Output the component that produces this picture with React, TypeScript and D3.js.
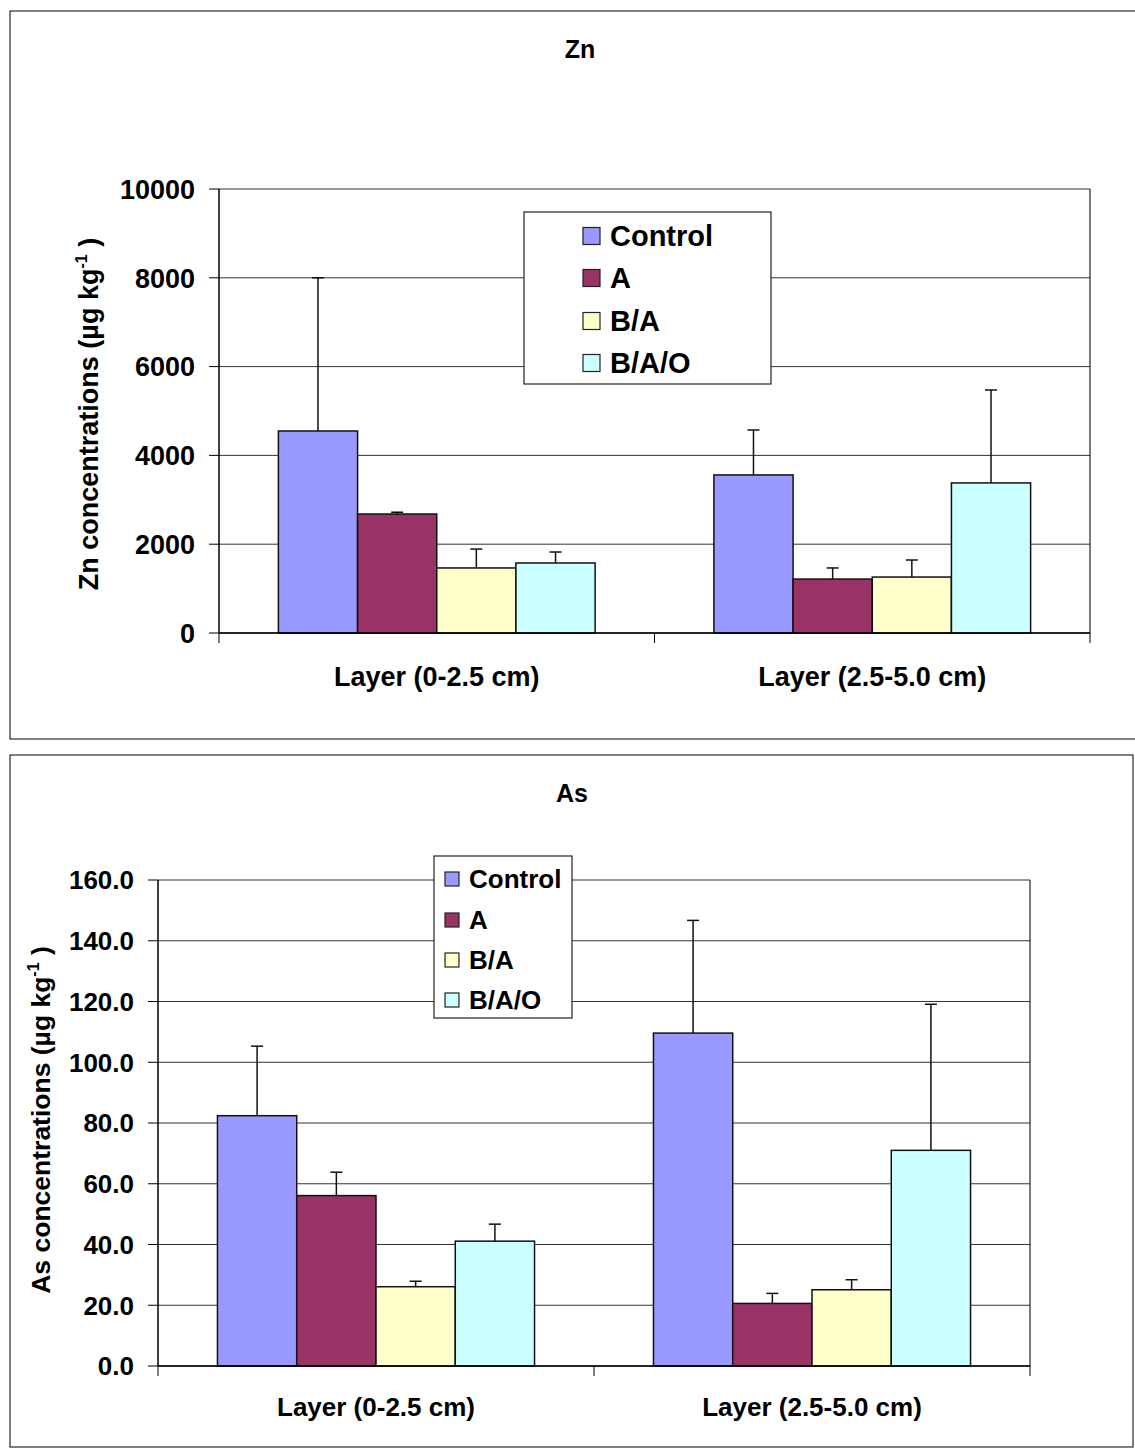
import React from "react";
import * as d3 from "d3";

const categories = ["Layer (0-2.5 cm)", "Layer (2.5-5.0 cm)"];
const seriesNames = ["Control", "A", "B/A", "B/A/O"];
const seriesColors = ["#9999FF", "#993366", "#FFFFCC", "#CCFFFF"];

// Zn (µg/kg) per series, per layer
const znControl = [4550, 3560];
const znA = [2680, 1215];
const znBA = [1465, 1260];
const znBAO = [1577, 3380];
const znErrControl = [3450, 1012];
const znErrA = [40, 250];
const znErrBA = [425, 384];
const znErrBAO = [247, 2093];
const znTicks = [0, 2000, 4000, 6000, 8000, 10000];

// As (µg/kg)
const asControl = [82.4, 109.6];
const asA = [56.1, 20.6];
const asBA = [26.1, 25.1];
const asBAO = [41.1, 71.0];
const asErrControl = [22.9, 37.1];
const asErrA = [7.7, 3.3];
const asErrBA = [1.8, 3.3];
const asErrBAO = [5.6, 48.1];
const asTicks = [0, 20, 40, 60, 80, 100, 120, 140, 160];

const FONT = "'Liberation Sans', Arial, Helvetica, sans-serif";

type ChartProps = {
  frame: { x: number; y: number; w: number; h: number };
  title: string;
  titleX: number;
  titleY: number;
  plot: { x0: number; x1: number; y0: number; y1: number };
  yMax: number;
  ticks: number[];
  tickFmt: (v: number) => string;
  values: number[][];
  errors: number[][];
  yLabel: string;
  yLabelX: number;
  yLabelY: number;
  yLabelFont: number;
  xLabelY: number;
  tickFont: number;
  labelFont: number;
  titleFont: number;
  legend: { x: number; y: number; w: number; h: number; sw: number; textX: number; rows: number[]; font: number; swX: number };
};

function Chart(p: ChartProps) {
  const { plot } = p;
  const y = d3.scaleLinear().domain([0, p.yMax]).range([plot.y1, plot.y0]);
  const xCat = d3.scaleBand<string>().domain(categories).range([plot.x0, plot.x1]).padding(0);
  const xSer = d3
    .scaleBand<string>()
    .domain(seriesNames)
    .range([0, xCat.bandwidth()])
    .paddingInner(0)
    .paddingOuter(0.75);
  const catTicks = [plot.x0, ...categories.map((c) => (xCat(c) as number) + xCat.bandwidth())];
  return (
    <g fontFamily={FONT} fontWeight="bold">
      <rect x={p.frame.x} y={p.frame.y} width={p.frame.w} height={p.frame.h} fill="#fff" stroke="#000" strokeWidth={1} />
      <text x={p.titleX} y={p.titleY} textAnchor="middle" fontSize={p.titleFont}>
        {p.title}
      </text>
      {/* gridlines */}
      {p.ticks.map((t) => (
        <line key={"g" + t} x1={plot.x0} x2={plot.x1} y1={y(t)} y2={y(t)} stroke="#333" strokeWidth={1} />
      ))}
      {/* right border */}
      <line x1={plot.x1} x2={plot.x1} y1={plot.y0} y2={plot.y1} stroke="#222" strokeWidth={1.2} />
      {/* bars */}
      {seriesNames.map((s, si) =>
        categories.map((c, ci) => {
          const v = p.values[si][ci];
          const e = p.errors[si][ci];
          const bx = (xCat(c) as number) + (xSer(s) as number);
          const bw = xSer.bandwidth();
          const cx = bx + bw / 2;
          return (
            <g key={s + c}>
              <rect x={bx} y={y(v)} width={bw} height={y(0) - y(v)} fill={seriesColors[si]} stroke="#111" strokeWidth={1.5} />
              <line x1={cx} x2={cx} y1={y(v)} y2={y(v + e)} stroke="#111" strokeWidth={1.5} />
              <line x1={cx - 6} x2={cx + 6} y1={y(v + e)} y2={y(v + e)} stroke="#111" strokeWidth={1.5} />
            </g>
          );
        })
      )}
      {/* axes */}
      <line x1={plot.x0} x2={plot.x0} y1={plot.y0} y2={plot.y1} stroke="#000" strokeWidth={1.5} />
      <line x1={plot.x0} x2={plot.x1} y1={plot.y1} y2={plot.y1} stroke="#000" strokeWidth={1.5} />
      {p.ticks.map((t) => (
        <g key={"t" + t}>
          <line x1={plot.x0 - 10} x2={plot.x0} y1={y(t)} y2={y(t)} stroke="#000" strokeWidth={1} />
          <text x={plot.x0 - 24} y={y(t)} dy="0.36em" textAnchor="end" fontSize={p.tickFont}>
            {p.tickFmt(t)}
          </text>
        </g>
      ))}
      {catTicks.map((tx, i) => (
        <line key={"ct" + i} x1={tx} x2={tx} y1={plot.y1} y2={plot.y1 + 10} stroke="#000" strokeWidth={1} />
      ))}
      {categories.map((c) => {
        const cx = (xCat(c) as number) + xCat.bandwidth() / 2;
        return (
          <text key={c} x={cx} y={p.xLabelY} textAnchor="middle" fontSize={p.labelFont}>
            {c}
          </text>
        );
      })}
      {/* y label */}
      <text
        transform={`translate(${p.yLabelX},${p.yLabelY}) rotate(-90)`}
        textAnchor="middle"
        dy="0.36em"
        fontSize={p.yLabelFont}
      >
        {p.yLabel}
        <tspan dy={-11} fontSize={16}>-1</tspan>
        <tspan dy={11}> )</tspan>
      </text>
      {/* legend */}
      <rect x={p.legend.x} y={p.legend.y} width={p.legend.w} height={p.legend.h} fill="#fff" stroke="#222" strokeWidth={1.2} />
      {seriesNames.map((s, i) => (
        <g key={"l" + s}>
          <rect
            x={p.legend.swX}
            y={p.legend.rows[i] - p.legend.sw / 2}
            width={p.legend.sw}
            height={p.legend.sw}
            fill={seriesColors[i]}
            stroke="#222"
            strokeWidth={1.2}
          />
          <text x={p.legend.textX} y={p.legend.rows[i]} dy="0.36em" fontSize={p.legend.font}>
            {s}
          </text>
        </g>
      ))}
    </g>
  );
}

export default function App() {
  return (
    <svg width={1135} height={1450} style={{ position: "absolute", left: 0, top: 0, background: "#fff" }}>
      <Chart
        frame={{ x: 10, y: 11, w: 1140, h: 728 }}
        title="Zn"
        titleX={580}
        titleY={58}
        titleFont={25}
        plot={{ x0: 219, x1: 1090, y0: 189, y1: 633 }}
        yMax={10000}
        ticks={znTicks}
        tickFmt={(v) => d3.format("d")(v)}
        values={[znControl, znA, znBA, znBAO]}
        errors={[znErrControl, znErrA, znErrBA, znErrBAO]}
        yLabel="Zn concentrations (µg kg"
        yLabelX={88}
        yLabelY={414}
        yLabelFont={27}
        xLabelY={686}
        tickFont={27}
        labelFont={27}
        legend={{ x: 524, y: 212, w: 247, h: 172, sw: 17, swX: 583, textX: 610, rows: [236, 278, 321, 363], font: 29 }}
      />
      <Chart
        frame={{ x: 10, y: 755, w: 1123, h: 692 }}
        title="As"
        titleX={572}
        titleY={802}
        titleFont={25}
        plot={{ x0: 158, x1: 1030, y0: 880, y1: 1366 }}
        yMax={160}
        ticks={asTicks}
        tickFmt={(v) => d3.format(".1f")(v)}
        values={[asControl, asA, asBA, asBAO]}
        errors={[asErrControl, asErrA, asErrBA, asErrBAO]}
        yLabel="As concentrations (µg kg"
        yLabelX={40}
        yLabelY={1120}
        yLabelFont={26.5}
        xLabelY={1416}
        tickFont={26}
        labelFont={26}
        legend={{ x: 434, y: 856, w: 138, h: 162, sw: 14, swX: 445, textX: 469, rows: [879, 920, 960, 1000], font: 26 }}
      />
    </svg>
  );
}
